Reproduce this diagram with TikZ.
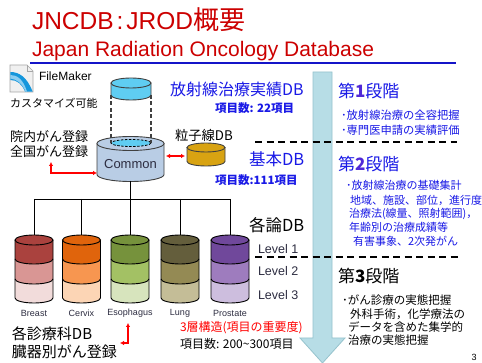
\documentclass[tikz,border=0pt]{standalone}
\usepackage{fontspec}
\setmainfont{Liberation Sans}
\newfontfamily\jp{Noto Sans CJK JP}
\usetikzlibrary{arrows.meta}
\newcommand\fsz[1]{\fontsize{#1}{#1}\selectfont}

\definecolor{titlered}{RGB}{204,0,0}
\definecolor{rulenavy}{RGB}{20,20,200}
\definecolor{jblue}{RGB}{25,25,230}
\definecolor{digitblue}{RGB}{80,40,215}
\definecolor{flowfill}{RGB}{183,221,230}
\definecolor{flowedge}{RGB}{150,195,205}
\definecolor{skycyan}{RGB}{95,205,242}
\definecolor{commonfill}{RGB}{185,205,229}
\definecolor{goldfill}{RGB}{216,163,18}
\definecolor{brightred}{RGB}{255,0,0}
\definecolor{labelgray}{RGB}{45,45,65}
\definecolor{fmblue}{RGB}{20,150,220}
\definecolor{fmlight}{RGB}{140,205,240}
% organ cylinders: top / middle / bottom bands
\definecolor{brA}{RGB}{170,66,62}\definecolor{brB}{RGB}{217,150,148}\definecolor{brC}{RGB}{242,220,219}
\definecolor{ceA}{RGB}{224,100,12}\definecolor{ceB}{RGB}{247,150,80}\definecolor{ceC}{RGB}{252,213,181}
\definecolor{esA}{RGB}{118,146,60}\definecolor{esB}{RGB}{163,193,100}\definecolor{esC}{RGB}{215,228,189}
\definecolor{luA}{RGB}{100,94,60}\definecolor{luB}{RGB}{148,138,84}\definecolor{luC}{RGB}{196,189,151}
\definecolor{prA}{RGB}{112,72,155}\definecolor{prB}{RGB}{158,124,190}\definecolor{prC}{RGB}{205,190,222}

\begin{document}
\begin{tikzpicture}[x=1pt,y=-1pt,
  txt/.style={inner sep=0pt, outer sep=0pt, anchor=west},
  jtxt/.style={txt, font=\jp\fsz{#1}},
  cylline/.style={draw=black, line width=0.9pt},
  redarrow/.style={draw=brightred, line width=1.4pt, {Latex[length=4pt,width=4.5pt]}-{Latex[length=4pt,width=4.5pt]}},
  stagedash/.style={draw=black, line width=1.8pt, dash pattern=on 7pt off 4.5pt},
  pics/can/.style n args={4}{code={% #1 rx, #2 ry, #3 body height, #4 fill
    \filldraw[fill=#4, draw=black!75, line width=0.9pt] (-#1,0) -- (-#1,#3)
      arc[start angle=180,end angle=0,x radius=#1,y radius=#2] -- (#1,0) -- cycle;
    \filldraw[fill=#4, draw=black!75, line width=0.9pt] (0,0) ellipse[x radius=#1,y radius=#2];
  }},
  pics/tricyl/.style n args={3}{code={% three bands, top colour first
    \fill[#3] (-19,39) -- (-19,58) arc[start angle=180,end angle=0,x radius=19,y radius=5]
      -- (19,39) arc[start angle=0,end angle=180,x radius=19,y radius=5] -- cycle;
    \fill[#2] (-19,19) -- (-19,39) arc[start angle=180,end angle=0,x radius=19,y radius=5]
      -- (19,19) arc[start angle=0,end angle=180,x radius=19,y radius=5] -- cycle;
    \fill[#1] (-19,0) -- (-19,19) arc[start angle=180,end angle=0,x radius=19,y radius=5]
      -- (19,0) arc[start angle=0,end angle=180,x radius=19,y radius=5] -- cycle;
    \draw[cylline] (-19,0) -- (-19,58) arc[start angle=180,end angle=0,x radius=19,y radius=5] -- (19,0);
    \draw[cylline] (-19,19) arc[start angle=180,end angle=0,x radius=19,y radius=5];
    \draw[cylline] (-19,39) arc[start angle=180,end angle=0,x radius=19,y radius=5];
    \draw[cylline, fill=#1] (0,0) ellipse[x radius=19,y radius=5];
  }}
]
\useasboundingbox[fill=white] (0,0) rectangle (482,363);

% ---- heading ----
\node[txt, anchor=base west, font=\fsz{24.5}, text=titlered] (title) at (32,29.5)
  {JNCDB\hspace{3pt}:\hspace{3pt}JROD{\jp\fsz{26}概要}};
\node[txt, anchor=base west, font=\fsz{21}, text=titlered] (subtitle) at (32,57)
  {Japan Radiation Oncology Database};
\draw[rulenavy, line width=2pt] (30,63) -- (456,63);

% ---- stage flow arrow ----
\filldraw[fill=flowfill, draw=flowedge, line width=0.8pt]
  (313,72) -- (332,72) -- (332,338) -- (345,338) -- (322.5,363) -- (300,338) -- (313,338) -- cycle;

% ---- FileMaker icon ----
\filldraw[fill=black!6, draw=black!35, line width=0.6pt]
  (10,65) -- (27,65) -- (33,71) -- (33,92) -- (10,92) -- cycle;
\draw[black!35, line width=0.6pt] (27,65) -- (27,71) -- (33,71);
\fill[fmblue] (10.4,72) .. controls (19,72) and (27,77) .. (32.6,91.6)
  -- (25,91.6) .. controls (22,84) and (17,80) .. (10.4,80) -- cycle;
\fill[fmlight] (10.4,75) .. controls (17,75) and (23,79) .. (27,91.6)
  -- (25.5,91.6) .. controls (22,83) and (17,79.5) .. (10.4,78.5) -- cycle;
\node[txt, font=\fsz{12}] (fm) at (39,76) {FileMaker};
\node[jtxt=11] (custom) at (10,103) {カスタマイズ可能};

% ---- registries on the left ----
\node[jtxt=13] (hosp) at (10,137) {院内がん登録};
\node[jtxt=13] (natl) at (10,152) {全国がん登録};

% ---- common database with its top layer ----
\pic at (131,83) {can={20}{5}{12}{skycyan}};
\pic at (130.5,143.5) {can={33.5}{7}{31}{commonfill}};
\filldraw[fill=skycyan, draw=black, line width=0.8pt, dash pattern=on 2.5pt off 1.5pt]
  (131,143) ellipse[x radius=20,y radius=3.5];
\coordinate (topL) at (111,95);  \coordinate (topR) at (151,95);
\coordinate (inL) at (111,143);  \coordinate (inR) at (151,143);
\draw[black!75, line width=1.4pt, dash pattern=on 4pt off 2.5pt] (topL) -- (inL) (topR) -- (inR);
\node[txt, anchor=center, font=\fsz{13}, text=labelgray] (common) at (130.5,164) {Common};
\coordinate (commonW) at (97,173);
\coordinate (commonE) at (166,156);
\coordinate (commonS) at (130,181);

% ---- particle-beam database ----
\node[jtxt=13.3] (ptext) at (175,135) {粒子線DB};
\pic at (206,147.5) {can={19}{4.5}{14}{goldfill}};
\coordinate (goldW) at (185,156);
\draw[redarrow] (commonE) -- (goldW);
\coordinate (regA) at (51,162);
\draw[redarrow] (regA) |- (commonW);

% ---- database labels ----
\node[jtxt=16, text=jblue] (rtdb) at (170,89) {放射線治療実績DB};
\node[txt, text=jblue, font=\jp\bfseries\fsz{11.5}] (n22) at (215,108) {項目数: 22項目};
\node[jtxt=16.5, text=jblue] (basic) at (249,159.5) {基本DB};
\node[txt, text=jblue, font=\jp\bfseries\fsz{11.5}] (n111) at (215,180) {項目数:111項目};
\node[jtxt=16.5] (organdb) at (249,225) {各論DB};
\node[txt, font=\fsz{12.5}, text=labelgray] (lv1) at (258,249) {Level 1};
\node[txt, font=\fsz{12.5}, text=labelgray] (lv2) at (258,271) {Level 2};
\node[txt, font=\fsz{12.5}, text=labelgray] (lv3) at (258,295) {Level 3};

% ---- stage separators ----
\draw[stagedash] (255,142) -- (457,142);
\draw[stagedash] (255,257) -- (458,257);

% ---- stage 1 ----
\node[jtxt=17, text=jblue] (s1) at (338,91.5) {第{\bfseries\color{digitblue}1}段階};
\node[jtxt=11.3, text=jblue] (s1a) at (341,115) {･放射線治療の全容把握};
\node[jtxt=11.3, text=jblue] (s1b) at (341,130) {･専門医申請の実績評価};

% ---- stage 2 ----
\node[jtxt=17, text=jblue] (s2) at (338,164) {第{\bfseries\color{digitblue}2}段階};
\node[jtxt=11, text=jblue] (s2a) at (346,185) {･放射線治療の基礎集計};
\node[jtxt=11, text=jblue] (s2b) at (350,200) {地域、施設、部位，進行度};
\node[jtxt=11, text=jblue] (s2c) at (349,213.5) {治療法(線量、照射範囲)，};
\node[jtxt=11, text=jblue] (s2d) at (349,227) {年齢別の治療成績等};
\node[jtxt=11, text=jblue] (s2e) at (353,241) {有害事象、2次発がん};

% ---- stage 3 ----
\node[jtxt=17] (s3) at (338,276) {第{\bfseries 3}段階};
\node[jtxt=11.5] (s3a) at (342,300) {･がん診療の実態把握};
\node[jtxt=11.5] (s3b) at (350,314) {外科手術，化学療法の};
\node[jtxt=11.5] (s3c) at (348,327) {データを含めた集学的};
\node[jtxt=11.5] (s3d) at (348,340) {治療の実態把握};

% ---- organ-specific cylinders ----
\pic at (34,240) {tricyl={brA}{brB}{brC}};
\pic at (81.5,240) {tricyl={ceA}{ceB}{ceC}};
\pic at (130,240) {tricyl={esA}{esB}{esC}};
\pic at (180,240) {tricyl={luA}{luB}{luC}};
\pic at (230,240) {tricyl={prA}{prB}{prC}};
\coordinate (breastT) at (34,235);
\coordinate (cervixT) at (81.5,235);
\coordinate (esophT) at (130,235);
\coordinate (lungT) at (180,235);
\coordinate (prostT) at (230,235);
\coordinate (bus) at (130,199);
\draw[black, line width=0.8pt] (commonS) -- (bus);
\draw[black, line width=0.8pt] (breastT |- bus) -- (prostT |- bus);
\foreach \c in {breastT,cervixT,esophT,lungT,prostT}
  \draw[black, line width=0.8pt] (\c |- bus) -- (\c);

\foreach \x/\n/\t in {34/lbreast/Breast, 81.5/lcervix/Cervix, 130/lesoph/Esophagus, 180/llung/Lung, 230/lprost/Prostate}
  \node[inner sep=0pt, font=\fsz{9}, text=labelgray] (\n) at (\x,313) {\t};

% ---- bottom notes ----
\node[jtxt=12, text=brightred] (layers) at (180,328) {3層構造(項目の重要度)};
\node[jtxt=12] (n200) at (180,344) {項目数: 200\textasciitilde300項目};
\node[jtxt=15] (dept) at (12,334) {各診療科DB};
\node[jtxt=15] (organreg) at (12,352) {臓器別がん登録};
\coordinate (orgU) at (128,323);
\coordinate (orgL) at (120,343);
\draw[redarrow] (orgU) |- (orgL);

\node[inner sep=0pt, font=\fsz{9}] (pageno) at (474,357) {3};
\end{tikzpicture}
\end{document}
